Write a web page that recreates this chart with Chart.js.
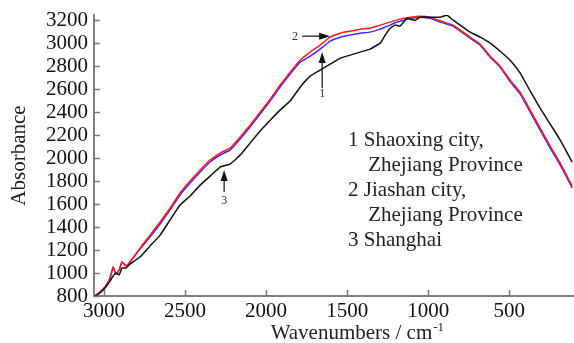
<!DOCTYPE html>
<html>
<head>
<meta charset="utf-8">
<script src="https://cdn.jsdelivr.net/npm/chart.js@4.4.1/dist/chart.umd.min.js"></script>
<style>
  html, body { margin: 0; padding: 0; background: #fff; }
  #wrap { width: 574px; height: 343px; }
</style>
</head>
<body>
<div id="wrap"><canvas id="ftir"></canvas></div>
<script>
// wavenumbers (cm-1)
const wavenumbers = [3056, 3025, 2994, 2963, 2944, 2926, 2907, 2889, 2864, 2840, 2778, 2716, 2654, 2593, 2531, 2469, 2407, 2346, 2284, 2222, 2160, 2099, 2037, 1975, 1914, 1852, 1790, 1728, 1667, 1605, 1543, 1481, 1420, 1358, 1296, 1265, 1235, 1204, 1173, 1130, 1111, 1080, 1049, 988, 926, 883, 846, 802, 741, 679, 617, 556, 494, 432, 370, 309, 247, 185, 111];

// 2 Jiashan city (red)
const jiashan = [800, 835, 878, 957, 1052, 991, 1026, 1096, 1061, 1096, 1217, 1330, 1444, 1565, 1696, 1800, 1896, 1983, 2044, 2087, 2183, 2287, 2400, 2513, 2635, 2748, 2852, 2922, 2983, 3052, 3087, 3104, 3122, 3130, 3157, 3170, 3183, 3196, 3209, 3222, 3226, 3230, 3235, 3226, 3196, 3174, 3157, 3113, 3052, 2991, 2887, 2800, 2678, 2574, 2417, 2261, 2104, 1957, 1757];

// 1 Shaoxing city (blue)
const shaoxing = [800, 835, 878, 957, 1052, 991, 1026, 1096, 1061, 1096, 1208, 1313, 1427, 1548, 1679, 1783, 1879, 1966, 2027, 2070, 2166, 2270, 2383, 2496, 2618, 2731, 2835, 2887, 2948, 3017, 3052, 3070, 3087, 3096, 3122, 3140, 3157, 3178, 3191, 3209, 3217, 3222, 3226, 3217, 3183, 3165, 3148, 3104, 3043, 2983, 2878, 2791, 2665, 2557, 2400, 2244, 2087, 1939, 1740];

// 3 Shanghai (black)
const shanghai = [800, 826, 870, 930, 974, 1000, 983, 1043, 1043, 1078, 1139, 1235, 1330, 1461, 1591, 1670, 1765, 1843, 1922, 1948, 2026, 2130, 2235, 2330, 2417, 2496, 2617, 2713, 2765, 2817, 2870, 2896, 2922, 2948, 3000, 3070, 3130, 3157, 3148, 3217, 3209, 3200, 3226, 3226, 3226, 3243, 3200, 3157, 3096, 3052, 3000, 2930, 2852, 2739, 2583, 2435, 2296, 2157, 1965];

const xTicks = [3000, 2500, 2000, 1500, 1000, 500];
const yTicks = [800, 1000, 1200, 1400, 1600, 1800, 2000, 2200, 2400, 2600, 2800, 3000, 3200];

const legendLines = ['1 Shaoxing city,', 'Zhejiang Province', '2 Jiashan city,', 'Zhejiang Province', '3 Shanghai'];

const serif = '"Liberation Serif", "Times New Roman", serif';

function pts(vals) {
  return wavenumbers.map((w, i) => ({ x: w, y: vals[i] }));
}

function arrow(ctx, x1, y1, x2, y2) {
  const a = Math.atan2(y2 - y1, x2 - x1);
  ctx.beginPath();
  ctx.moveTo(x1, y1);
  ctx.lineTo(x2 - 8 * Math.cos(a), y2 - 8 * Math.sin(a));
  ctx.stroke();
  ctx.beginPath();
  ctx.moveTo(x2, y2);
  ctx.lineTo(x2 - 11 * Math.cos(a) + 3.5 * Math.sin(a), y2 - 11 * Math.sin(a) - 3.5 * Math.cos(a));
  ctx.lineTo(x2 - 11 * Math.cos(a) - 3.5 * Math.sin(a), y2 - 11 * Math.sin(a) + 3.5 * Math.cos(a));
  ctx.closePath();
  ctx.fill();
}

// inward ticks, arrows, in-plot legend and x title
const decor = {
  id: 'decor',
  afterDatasetsDraw(chart) {
    const { ctx, chartArea, scales: { x, y } } = chart;
    ctx.save();
    ctx.strokeStyle = '#7a7a7a';
    ctx.lineWidth = 1.5;
    x.ticks.forEach(t => {
      const px = Math.round(x.getPixelForValue(t.value)) + 0.5;
      ctx.beginPath();
      ctx.moveTo(px, chartArea.bottom);
      ctx.lineTo(px, chartArea.bottom - 6);
      ctx.stroke();
    });
    y.ticks.forEach(t => {
      const py = Math.round(y.getPixelForValue(t.value)) + 0.5;
      ctx.beginPath();
      ctx.moveTo(chartArea.left, py);
      ctx.lineTo(chartArea.left + 6, py);
      ctx.stroke();
    });

    // arrows 1, 2, 3
    ctx.strokeStyle = '#111';
    ctx.fillStyle = '#111';
    ctx.lineWidth = 1.2;
    arrow(ctx, x.getPixelForValue(1778), y.getPixelForValue(3061), x.getPixelForValue(1605), y.getPixelForValue(3061));
    arrow(ctx, x.getPixelForValue(1654), y.getPixelForValue(2609), x.getPixelForValue(1654), y.getPixelForValue(2922));
    arrow(ctx, x.getPixelForValue(2259), y.getPixelForValue(1704), x.getPixelForValue(2259), y.getPixelForValue(1896));
    ctx.font = '12px ' + serif;
    ctx.textAlign = 'center';
    ctx.textBaseline = 'middle';
    ctx.fillStyle = '#333';
    ctx.fillText('2', x.getPixelForValue(1821), y.getPixelForValue(3052));
    ctx.fillText('1', x.getPixelForValue(1654), y.getPixelForValue(2557));
    ctx.fillText('3', x.getPixelForValue(2259), y.getPixelForValue(1626));

    // legend text
    ctx.font = '21px ' + serif;
    ctx.textAlign = 'left';
    ctx.textBaseline = 'alphabetic';
    ctx.fillStyle = '#222';
    const lx = [1494, 1370, 1494, 1370, 1494];
    const ly = [2104, 1887, 1670, 1452, 1235];
    legendLines.forEach((s, i) => {
      ctx.fillText(s, x.getPixelForValue(lx[i]), y.getPixelForValue(ly[i]));
    });

    // x axis title with superscript
    const main = 'Wavenumbers / cm';
    const w1 = ctx.measureText(main).width;
    ctx.font = '13px ' + serif;
    const w2 = ctx.measureText('-1').width;
    const cx = x.getPixelForValue(1440);
    const start = cx - (w1 + w2) / 2;
    ctx.font = '21px ' + serif;
    ctx.fillText(main, start, 339);
    ctx.font = '13px ' + serif;
    ctx.fillText('-1', start + w1 + 1, 331);
    ctx.restore();
  }
};

const ctx = document.getElementById('ftir').getContext('2d');
new Chart(ctx, {
  type: 'line',
  data: {
    datasets: [
      { label: '3 Shanghai', data: pts(shanghai), borderColor: '#111111' },
      { label: '2 Jiashan city', data: pts(jiashan), borderColor: '#ff1a1a' },
      { label: '1 Shaoxing city', data: pts(shaoxing), borderColor: '#3d2cf5' }
    ]
  },
  options: {
    responsive: true,
    maintainAspectRatio: false,
    animation: false,
    layout: { padding: 0 },
    elements: {
      point: { radius: 0 },
      line: { borderWidth: 1.5, tension: 0.1 }
    },
    plugins: {
      legend: { display: false },
      tooltip: { enabled: false }
    },
    scales: {
      x: {
        type: 'linear',
        reverse: true,
        min: 100,
        max: 3062,
        afterBuildTicks(scale) { scale.ticks = xTicks.map(v => ({ value: v })); },
        afterFit(scale) {
          scale.height = 47;
          scale.paddingLeft = 0;
          scale.paddingRight = 0;
        },
        grid: { drawOnChartArea: false, drawTicks: false },
        border: { color: '#808080', width: 2 },
        ticks: {
          padding: 3,
          color: '#111',
          font: { family: serif, size: 21 },
          maxRotation: 0,
          autoSkip: false,
          callback: v => String(v)
        }
      },
      y: {
        type: 'linear',
        min: 800,
        max: 3245,
        afterBuildTicks(scale) { scale.ticks = yTicks.map(v => ({ value: v })); },
        afterFit(scale) {
          scale.width = 94;
          scale.paddingTop = 15;
          scale.paddingBottom = 0;
        },
        grid: { drawOnChartArea: false, drawTicks: false },
        border: { color: '#808080', width: 2 },
        title: {
          display: true,
          text: 'Absorbance',
          color: '#222',
          padding: { top: 7, bottom: 0 },
          font: { family: serif, size: 21 }
        },
        ticks: {
          padding: 6,
          color: '#111',
          font: { family: serif, size: 21 },
          autoSkip: false,
          callback: v => String(v)
        }
      }
    }
  },
  plugins: [decor]
});
</script>
</body>
</html>
